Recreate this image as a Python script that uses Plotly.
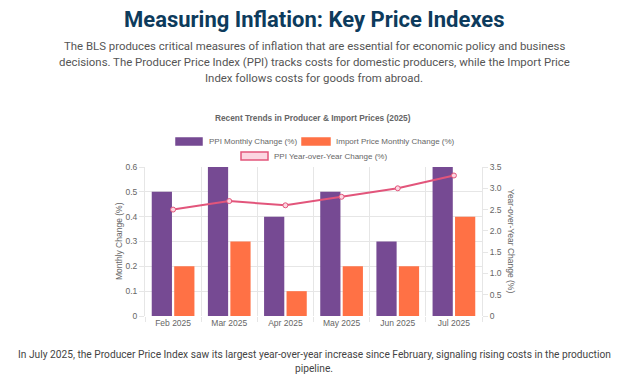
import plotly.graph_objects as go

months = ["Feb 2025", "Mar 2025", "Apr 2025", "May 2025", "Jun 2025", "Jul 2025"]
ppi_monthly = [0.5, 0.6, 0.4, 0.5, 0.3, 0.6]
import_monthly = [0.2, 0.3, 0.1, 0.2, 0.2, 0.4]
ppi_yoy = [2.5, 2.7, 2.6, 2.8, 3.0, 3.3]
yoy_tick_vals = [0, 0.5, 1.0, 1.5, 2.0, 2.5, 3.0, 3.5]
yoy_tick_text = ["0", "0.5", "1.0", "1.5", "2.0", "2.5", "3.0", "3.5"]

PURPLE = "#764a93"
ORANGE = "#ff7145"
PINK = "#e2557b"
PINK_FILL = "#fcd6e1"
GRID = "#e6e6e6"
TICK = "#666666"
CHART_FONT = "Liberation Sans, Arial, sans-serif"
PAGE_FONT = "Roboto, Inter, sans-serif"

OFF = 8  # page body margin
W, H = 626 - OFF, 379 - OFF
PL, PR, PT, PB = 145 - OFF, 482 - OFF, 167 - OFF, 316 - OFF

fig = go.Figure()
fig.add_trace(go.Bar(x=months, y=ppi_monthly, name="PPI Monthly Change (%)",
                     marker=dict(color=PURPLE, line=dict(width=0)), yaxis="y"))
fig.add_trace(go.Bar(x=months, y=import_monthly, name="Import Price Monthly Change (%)",
                     marker=dict(color=ORANGE, line=dict(width=0)), yaxis="y"))
fig.add_trace(go.Scatter(x=months, y=ppi_yoy, name="PPI Year-over-Year Change (%)",
                         mode="lines+markers", yaxis="y2",
                         line=dict(color=PINK, width=2),
                         marker=dict(size=5, color=PINK_FILL, line=dict(color=PINK, width=1))))

fig.update_layout(
    width=W, height=H,
    margin=dict(l=PL, r=W - PR, t=PT, b=H - PB),
    paper_bgcolor="white", plot_bgcolor="white",
    showlegend=False,
    barmode="group", bargap=0.2, bargroupgap=0.1,
    font=dict(family=CHART_FONT, size=8.5, color=TICK),
    xaxis=dict(type="category", tickson="boundaries", showgrid=True, gridcolor=GRID,
               gridwidth=1, ticks="outside", ticklen=5, tickcolor=GRID,
               showline=False, zeroline=False, tickfont=dict(size=8.5, color=TICK)),
    yaxis=dict(range=[0, 0.6], dtick=0.1, showgrid=True, gridcolor=GRID, zeroline=False,
               ticks="outside", ticklen=5, tickcolor=GRID, showline=True, linecolor=GRID,
               tickfont=dict(size=8.5, color=TICK), tickformat="~g"),
    yaxis2=dict(range=[0, 3.5], tickmode="array", tickvals=yoy_tick_vals, ticktext=yoy_tick_text,
                overlaying="y", side="right", showgrid=False,
                zeroline=False, ticks="outside", ticklen=5, tickcolor=GRID, showline=True,
                linecolor=GRID, tickfont=dict(size=8.5, color=TICK)),
)

def px_x(px):
    return (px - OFF - PL) / (PR - PL)

def px_y(py):
    return (PB - (py - OFF)) / (PB - PT)

annotations = []

def text(t, x, y, size, color, family, anchor="center", angle=0):
    annotations.append(dict(text=t, xref="paper", yref="paper", x=px_x(x), y=px_y(y),
                            xanchor=anchor, yanchor="middle", showarrow=False, textangle=angle,
                            font=dict(family=family, size=size, color=color)))

text("<b>Measuring Inflation: Key Price Indexes</b>", 314, 19, 22, "#0d3b5c", PAGE_FONT)
sub = ["The BLS produces critical measures of inflation that are essential for economic policy and business",
       "decisions. The Producer Price Index (PPI) tracks costs for domestic producers, while the Import Price",
       "Index follows costs for goods from abroad."]
for i, s in enumerate(sub):
    text(s, 314, 46 + i * 16, 11.4, "#555555", PAGE_FONT)
text("<b>Recent Trends in Producer & Import Prices (2025)</b>", 313, 118, 8.3, "#666666", CHART_FONT)
bottom = ["In July 2025, the Producer Price Index saw its largest year-over-year increase since February, signaling rising costs in the production",
          "pipeline."]
for i, s in enumerate(bottom):
    text(s, 314, 354 + i * 14, 10.2, "#444444", PAGE_FONT)

# axis titles
text("Monthly Change (%)", 119, 241, 8.5, TICK, CHART_FONT, angle=-90)
text("Year-over-Year Change (%)", 511, 241, 8.5, TICK, CHART_FONT, angle=90)

# custom legend
shapes = []
legend_items = [
    (176, 202, 138, 145, PURPLE, PURPLE, 207, "PPI Monthly Change (%)"),
    (302, 330, 138, 145, ORANGE, ORANGE, 334, "Import Price Monthly Change (%)"),
    (241, 268, 152, 160, PINK_FILL, PINK, 272, "PPI Year-over-Year Change (%)"),
]
for x0, x1, y0, y1, fill, border, tx, label in legend_items:
    shapes.append(dict(type="rect", xref="paper", yref="paper", x0=px_x(x0), x1=px_x(x1),
                       y0=px_y(y1), y1=px_y(y0), fillcolor=fill, line=dict(color=border, width=1.5)))
    text(label, tx, (y0 + y1) / 2, 8, TICK, CHART_FONT, anchor="left")

fig.update_layout(annotations=annotations, shapes=shapes)
fig.write_html("out.html")
